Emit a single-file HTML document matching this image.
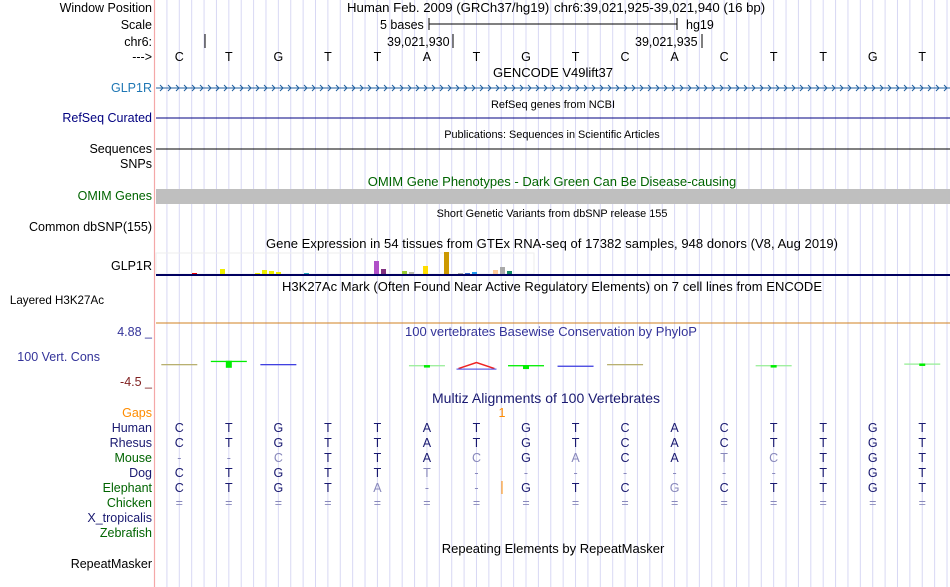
<!DOCTYPE html>
<html><head><meta charset="utf-8"><style>
html,body{margin:0;padding:0;background:#fff}
svg{display:block;font-family:"Liberation Sans",sans-serif}
</style></head><body>
<svg id="s" width="950" height="587" xmlns="http://www.w3.org/2000/svg">
<g id="grid"></g>
<line x1="154.5" y1="0" x2="154.5" y2="587" stroke="#f4a8a8" stroke-width="1.2"/>
<g font-size="12.5" text-anchor="end">
<text x="152" y="12" fill="#000">Window Position</text>
<text x="152" y="29" fill="#000">Scale</text>
<text x="152" y="46" fill="#000">chr6:</text>
<text x="152" y="61" fill="#000">---&gt;</text>
<text x="152" y="92" fill="#1f77b4">GLP1R</text>
<text x="152" y="122" fill="#000080">RefSeq Curated</text>
<text x="152" y="153" fill="#000">Sequences</text>
<text x="152" y="168" fill="#000">SNPs</text>
<text x="152" y="200" fill="#006400">OMIM Genes</text>
<text x="152" y="231" fill="#000">Common dbSNP(155)</text>
<text x="152" y="270" fill="#000">GLP1R</text>
<text x="104" y="304" fill="#000" font-size="11.6">Layered H3K27Ac</text>
<text x="152" y="336" fill="#333399">4.88 _</text>
<text x="100" y="361" fill="#333399">100 Vert. Cons</text>
<text x="152" y="386" fill="#7f1f1f">-4.5 _</text>
<text x="152" y="417" fill="#ff8c00">Gaps</text>
<text x="152" y="432" fill="#191970">Human</text>
<text x="152" y="447" fill="#191970">Rhesus</text>
<text x="152" y="462" fill="#006400">Mouse</text>
<text x="152" y="477" fill="#191970">Dog</text>
<text x="152" y="492" fill="#006400">Elephant</text>
<text x="152" y="507" fill="#006400">Chicken</text>
<text x="152" y="522" fill="#191970">X_tropicalis</text>
<text x="152" y="537" fill="#006400">Zebrafish</text>
<text x="152" y="568" fill="#000">RepeatMasker</text>
</g>
<g font-size="12.5" fill="#000">
<text x="347" y="12" font-size="13.2">Human Feb. 2009 (GRCh37/hg19)</text>
<text x="554" y="12" font-size="13.2">chr6:39,021,925-39,021,940 (16 bp)</text>
<text x="380" y="29">5 bases</text>
<line x1="429" y1="24" x2="677" y2="24" stroke="#000"/>
<line x1="429" y1="18" x2="429" y2="30" stroke="#000"/>
<line x1="677" y1="18" x2="677" y2="30" stroke="#000"/>
<text x="686" y="29">hg19</text>
<line x1="205" y1="34" x2="205" y2="48" stroke="#000"/>
<text x="387" y="46">39,021,930</text>
<line x1="453" y1="34" x2="453" y2="48" stroke="#000"/>
<text x="635" y="46">39,021,935</text>
<line x1="702" y1="34" x2="702" y2="48" stroke="#000"/>
</g>
<g font-size="13" text-anchor="middle">
<text x="553" y="77" fill="#000">GENCODE V49lift37</text>
<text x="553" y="108" fill="#000" font-size="11">RefSeq genes from NCBI</text>
<text x="552" y="138" fill="#000" font-size="10.9">Publications: Sequences in Scientific Articles</text>
<text x="552" y="186" fill="#006400">OMIM Gene Phenotypes - Dark Green Can Be Disease-causing</text>
<text x="552" y="217" fill="#000" font-size="10.9">Short Genetic Variants from dbSNP release 155</text>
<text x="552" y="248" fill="#000" textLength="572">Gene Expression in 54 tissues from GTEx RNA-seq of 17382 samples, 948 donors (V8, Aug 2019)</text>
<text x="552" y="291" fill="#000" textLength="540">H3K27Ac Mark (Often Found Near Active Regulatory Elements) on 7 cell lines from ENCODE</text>
<text x="551" y="336" fill="#333399">100 vertebrates Basewise Conservation by PhyloP</text>
<text x="546" y="403" fill="#191970" font-size="14" textLength="228">Multiz Alignments of 100 Vertebrates</text>
<text x="502" y="417" fill="#ff8c00" font-size="12.5">1</text>
<text x="553" y="553" fill="#000">Repeating Elements by RepeatMasker</text>
</g>
<line x1="156" y1="88" x2="950" y2="88" stroke="#1f5f9f"/>
<g id="arrows"></g>
<line x1="156" y1="118" x2="950" y2="118" stroke="#000080"/>
<line x1="156" y1="149" x2="950" y2="149" stroke="#000"/>
<rect x="156" y="189" width="794" height="15" fill="#bfbfbf"/>
<rect x="156" y="253" width="378" height="21" fill="none" stroke="#eee"/>
<g id="gtex"></g>
<rect x="156" y="274" width="794" height="2" fill="#000060"/>
<line x1="156" y1="323" x2="950" y2="323" stroke="#d08020"/>
<g id="cons"></g>
<g id="bases" font-size="12.5" text-anchor="middle"></g>
<g id="align" font-size="12.5" text-anchor="middle"></g>
<line x1="502" y1="481" x2="502" y2="494" stroke="#ff8c00"/>
</svg>
<script>
const NS="http://www.w3.org/2000/svg";
const refBases=["C","T","G","T","T","A","T","G","T","C","A","C","T","T","G","T"];
const alignRows=[
 ["Human","CTGTTATGTCACTTGT"],
 ["Rhesus","CTGTTATGTCACTTGT"],
 ["Mouse","--CTTACGACATCTGT"],
 ["Dog","CTGTTT-------TGT"],
 ["Elephant","CTGTA--GTCGCTTGT"],
 ["Chicken","================"]
];
const faint={"Mouse":[2,6,8,11,12],"Dog":[5],"Elephant":[4,10]};
const gtexValues=[0,0,0,0,0,1,0,0,0,5,0,0,0,0,1,4,3,2,0,0,0,1,0,0,0,0,0,0,0,0,0,13,5,0,0,3,2,0,8,0,0,22,0,1,1,2,0,0,4,7,3,0,0,0];
const gtexColors={5:"#e00",9:"#ee0",14:"#ee0",15:"#ee0",16:"#ee0",17:"#ee0",21:"#2ab",31:"#b050c8",32:"#803080",35:"#9c3",36:"#bba",38:"#fd0",41:"#c90",43:"#aaa",44:"#36c",45:"#29e",48:"#fc9",49:"#aaa",50:"#186"};
const phylopValues=[0,0.6,0,0,0,-0.2,-0.3,-0.2,-0.3,0,0,0,-0.2,0,0,0.1];
const phylopColors=["#b8b070","#0e0","#4040e0","","","#9e9","#e22","#0e0","#4040e0","#b8b070","","","#9e9","","","#9e9"];
const s=document.getElementById('s');
function el(tag,a,p){const e=document.createElementNS(NS,tag);for(const k in a)e.setAttribute(k,a[k]);p.appendChild(e);return e;}
const x0=179.3,bw=49.53;
const bx=i=>x0+i*bw;
const grid=document.getElementById('grid');
for(let k=-2;k<65;k++){const x=x0+k*bw/4;if(x<156||x>950)continue;
 const l=el('line',{x1:x,y1:0,x2:x,y2:587,stroke:'#d8d8f4'},grid);
 
 }
const bases=document.getElementById('bases');
refBases.forEach((b,i)=>{const t=el('text',{x:bx(i),y:61,fill:'#000'},bases);t.textContent=b;
 
 });
const arr=document.getElementById('arrows');
for(let x=160;x<950;x+=8){const p=el('path',{d:`M${x} 85 L${x+3} 88 L${x} 91`,fill:'none',stroke:'#1f5f9f'},arr);
 
 }
const gt=document.getElementById('gtex');
const gy=v=>274-v*1.0;
gtexValues.forEach((v,i)=>{if(!v)return;const r=el('rect',{x:157+i*7,y:gy(v),width:5,height:274-gy(v),fill:gtexColors[i]||'#888'},gt);
 
 });
const cons=document.getElementById('cons');
const py=v=>364-(v/4.88)*26;
phylopValues.forEach((v,i)=>{if(!phylopColors[i])return;const y=py(v);const c=phylopColors[i];
 if(c==='#e22'){
  const h=el('path',{d:`M${bx(i)-18} ${y+3} L${bx(i)} ${y-3} L${bx(i)+18} ${y+3}`,fill:'none',stroke:c,'stroke-width':1.5},cons);
  
  
  const b=el('rect',{x:bx(i)-20,y:y+3,width:40,height:1,fill:'#4040e0'},cons);
  
  
  return;}
 const r=el('rect',{x:bx(i)-18,y:y,width:36,height:1.3,fill:c},cons);
 
 
 if(c==='#0e0'||c==='#9e9'){const b=el('rect',{x:bx(i)-3,y:y,width:6,height:c==='#0e0'?(v>0.3?7:4):2.5,fill:'#0e0'},cons);
  
  }});
const al=document.getElementById('align');
alignRows.forEach((row,r)=>{const y=432+r*15;[...row[1]].forEach((c,i)=>{
 const f=(faint[row[0]]||[]).includes(i)||c==='-'||c==='=';
 const t=el('text',{x:bx(i),y:y,fill:f?'#8888bb':'#191970'},al);t.textContent=c;
 
 });});
</script>
</body></html>
